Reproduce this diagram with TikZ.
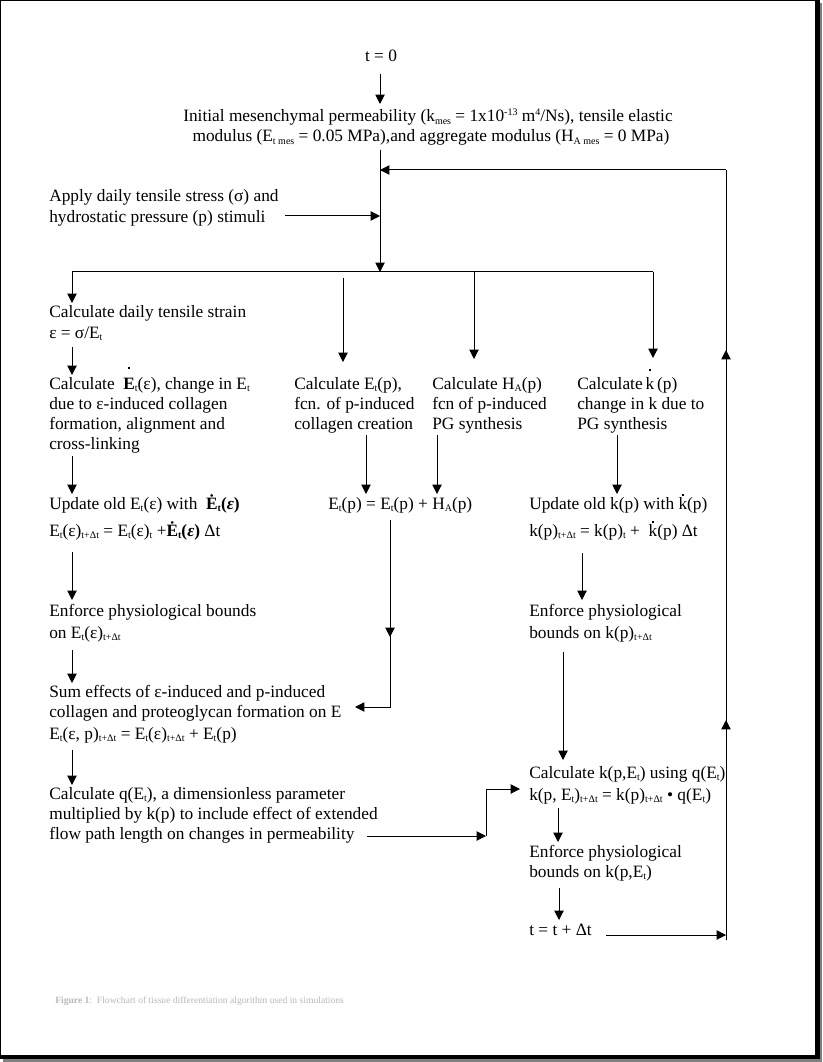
\documentclass[tikz,border=0pt]{standalone}
\usepackage{fontspec}
\setmainfont{Liberation Serif}
\usetikzlibrary{arrows.meta}
\definecolor{capgray}{RGB}{185,185,185}
\definecolor{shadowgray}{RGB}{128,128,128}
\newcommand\hidot[2]{\ooalign{#2\cr\hidewidth\smash{\raisebox{#1}{\rule{1.5pt}{1.5pt}}}\hidewidth\cr}}
\newcommand\tsub[1]{\raisebox{-0.35ex}{\fontsize{7.5}{8}\selectfont #1}}
\newcommand\tsup[1]{\raisebox{0.85ex}{\fontsize{7.5}{8}\selectfont #1}}
\begin{document}
\begin{tikzpicture}[x=0.75pt,y=-0.75pt,
  txt/.style={anchor=base west, inner sep=0pt, font=\fontsize{13}{15}\selectfont},
  ctxt/.style={anchor=base, inner sep=0pt, font=\fontsize{13}{15}\selectfont},
  captxt/.style={anchor=base west, inner sep=0pt, text=capgray, font=\fontsize{7.2}{9}\selectfont},
  arr/.style={-{Triangle[length=7pt,width=7pt]}, line width=0.75pt},
  ln/.style={line width=0.75pt}]
\useasboundingbox (0,0) rectangle (822,1062);
% page frame
\fill[black] (0,0) rectangle (820,1059);
\fill[white] (1,1) rectangle (815,1055);
\fill[shadowgray] (820,3) rectangle (822,1062);
\fill[shadowgray] (3,1059) rectangle (822,1062);

% ---------- top ----------
\node[ctxt] (t0) at (381,62) {t = 0};
\node[ctxt] (initA) at (428,122) {Initial mesenchymal permeability (k\tsub{mes} = 1x10\tsup{-13} m\tsup{4}/Ns), tensile elastic};
\node[ctxt] (initB) at (431,142) {modulus (E\tsub{t mes} = 0.05 MPa),and aggregate modulus (H\tsub{A mes} = 0 MPa)};
\node[txt] (applyA) at (49,202) {Apply daily tensile stress (σ) and};
\node[txt] (applyB) at (49,223) {hydrostatic pressure (p) stimuli};

\coordinate (a0s) at (380,74);
\coordinate (a0e) at (380,104);
\coordinate (trunkTop) at (380,150);
\coordinate (trunkBot) at (380,272);
\coordinate (fbEnd) at (380,170);
\coordinate (apS) at (285,216);
\coordinate (apE) at (380,216);
\coordinate (hL) at (72,272);
\coordinate (hR) at (653,272);

\draw[arr] (a0s) -- (a0e);
\draw[arr] (trunkTop) -- (trunkBot);
\draw[arr] (apS) -- (apE);
\draw[ln] (hL) -- (hR);

% branches
\coordinate (b1e) at (72,303);
\coordinate (b2s) at (343,278);
\coordinate (b2e) at (343,362);
\coordinate (b3s) at (474,272);
\coordinate (b3e) at (474,359);
\coordinate (b4e) at (653,358);
\draw[arr] (hL) -- (b1e);
\draw[arr] (b2s) -- (b2e);
\draw[arr] (b3s) -- (b3e);
\draw[arr] (hR) -- (b4e);

% ---------- left column ----------
\node[txt] (L1a) at (49,317) {Calculate daily tensile strain};
\node[txt] (L1b) at (49,338) {ε = σ/E\tsub{t}};
\node[txt] (L2a) at (49,389) {Calculate \ \hidot{15pt}{\textbf{E}}\tsub{t}(ε), change in E\tsub{t}};
\node[txt] (L2b) at (49,409) {due to ε-induced collagen};
\node[txt] (L2c) at (49,429) {formation, alignment and};
\node[txt] (L2d) at (49,449) {cross-linking};
\node[txt] (L3a) at (49,509) {Update old E\tsub{t}(ε) with \ \textbf{\.{E}\tsub{t}(\textit{ε})}};
\node[txt] (L3b) at (49,536) {E\tsub{t}(ε)\tsub{t+Δt} = E\tsub{t}(ε)\tsub{t} +\textbf{\.{E}\tsub{t}(\textit{ε})} Δt};
\node[txt] (L4a) at (49,616) {Enforce physiological bounds};
\node[txt] (L4b) at (49,638) {on E\tsub{t}(ε)\tsub{t+Δt}};
\node[txt] (L5a) at (49,697) {Sum effects of ε-induced and p-induced};
\node[txt] (L5b) at (49,717) {collagen and proteoglycan formation on E};
\node[txt] (L5c) at (49,739) {E\tsub{t}(ε, p)\tsub{t+Δt} = E\tsub{t}(ε)\tsub{t+Δt} + E\tsub{t}(p)};
\node[txt] (L6a) at (49,799) {Calculate q(E\tsub{t}), a dimensionless parameter};
\node[txt] (L6b) at (49,819) {multiplied by k(p) to include effect of extended};
\node[txt] (L6c) at (49,839) {flow path length on changes in permeability};

\coordinate (l2s) at (72,347);  \coordinate (l2e) at (72,375);
\coordinate (l3s) at (72,456);  \coordinate (l3e) at (72,494);
\coordinate (l4s) at (72,552);  \coordinate (l4e) at (72,600);
\coordinate (l5s) at (72,650);  \coordinate (l5e) at (72,683);
\coordinate (l6s) at (72,750);  \coordinate (l6e) at (72,785);
\draw[arr] (l2s) -- (l2e);
\draw[arr] (l3s) -- (l3e);
\draw[arr] (l4s) -- (l4e);
\draw[arr] (l5s) -- (l5e);
\draw[arr] (l6s) -- (l6e);

% q arrow to right column
\coordinate (qS) at (367,836);
\coordinate (qC) at (486,836);
\coordinate (qU) at (486,789);
\coordinate (qE) at (520,789);
\draw[arr] (qS) -- (qC);
\draw[arr] (qC) -- (qU) -- (qE);

% ---------- middle ----------
\node[txt] (M1a) at (294,389) {Calculate E\tsub{t}(p),};
\node[txt] (M1b) at (294,409) {fcn. of p-induced};
\node[txt] (M1c) at (294,429) {collagen creation};
\node[txt] (M2a) at (432,389) {Calculate H\tsub{A}(p)};
\node[txt] (M2b) at (432,409) {fcn of p-induced};
\node[txt] (M2c) at (432,429) {PG synthesis};
\node[txt] (M3) at (328,509) {E\tsub{t}(p) = E\tsub{t}(p) + H\tsub{A}(p)};

\coordinate (m1s) at (366,435); \coordinate (m1e) at (366,494);
\coordinate (m2s) at (437,435); \coordinate (m2e) at (437,494);
\draw[arr] (m1s) -- (m1e);
\draw[arr] (m2s) -- (m2e);
\coordinate (m3s) at (390,520);
\coordinate (m3m) at (390,637);
\coordinate (m3c) at (390,707);
\coordinate (m3e) at (355,707);
\draw[arr] (m3s) -- (m3m);
\draw[arr] (m3s) -- (m3c) -- (m3e);

% ---------- right column ----------
\node[txt] (R1a) at (577,389) {Calculate\,\hidot{13.5pt}{k}\,(p)};
\node[txt] (R1b) at (577,409) {change in k due to};
\node[txt] (R1c) at (577,429) {PG synthesis};
\node[txt] (R2a) at (529,509) {Update old k(p) with \hidot{9.5pt}{k}(p)};
\node[txt] (R2b) at (529,536) {k(p)\tsub{t+Δt} = k(p)\tsub{t} + \ \hidot{9.5pt}{k}(p) Δt};
\node[txt] (R3a) at (529,616) {Enforce physiological};
\node[txt] (R3b) at (529,638) {bounds on k(p)\tsub{t+Δt}};
\node[txt] (R4a) at (529,778) {Calculate k(p,E\tsub{t}) using q(E\tsub{t})};
\node[txt] (R4b) at (529,800) {k(p, E\tsub{t})\tsub{t+Δt} = k(p)\tsub{t+Δt} • q(E\tsub{t})};
\node[txt] (R5a) at (529,857) {Enforce physiological};
\node[txt] (R5b) at (529,877) {bounds on k(p,E\tsub{t})};
\node[txt] (R6) at (529,935) {t = t + Δt};

\coordinate (r1s) at (617,435); \coordinate (r1e) at (617,494);
\coordinate (r2s) at (582,553); \coordinate (r2e) at (582,600);
\coordinate (r3s) at (563,652); \coordinate (r3e) at (563,760);
\coordinate (r4s) at (558,808); \coordinate (r4e) at (558,842);
\coordinate (r5s) at (559,888); \coordinate (r5e) at (559,920);
\draw[arr] (r1s) -- (r1e);
\draw[arr] (r2s) -- (r2e);
\draw[arr] (r3s) -- (r3e);
\draw[arr] (r4s) -- (r4e);
\draw[arr] (r5s) -- (r5e);

% loop back
\coordinate (tS) at (606,935);
\coordinate (tE) at (726,935);
\coordinate (loopBot) at (726,940);
\coordinate (loopMid1) at (726,720);
\coordinate (loopMid2) at (726,350);
\coordinate (loopTop) at (726,170);
\draw[arr] (tS) -- (tE);
\draw[ln] (loopBot) -- (loopTop);
\draw[arr] (loopBot) -- (loopMid1);
\draw[arr] (loopBot) -- (loopMid2);
\draw[arr] (loopTop) -- (fbEnd);

% caption
\node[captxt] (cap) at (55,1003) {\textbf{Figure 1}:\ \ Flowchart of tissue differentiation algorithm used in simulations};
\end{tikzpicture}
\end{document}
